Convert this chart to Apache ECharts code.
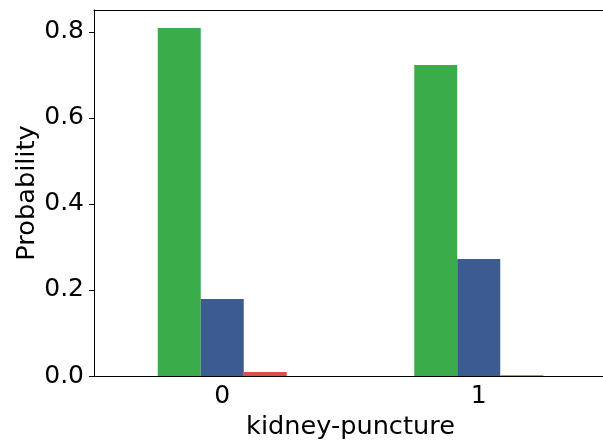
<!DOCTYPE html>
<html><head><meta charset="utf-8">
<script src="https://cdn.jsdelivr.net/npm/echarts@6/dist/echarts.min.js"></script>
<style>html,body{margin:0;padding:0;background:#fff}#c{width:603px;height:445px}</style>
</head><body><div id="c"></div>
<script>
const categories = ['0', '1'];
const seriesNames = ['A', 'B', 'C'];
const greenValues = [0.809, 0.723];
const blueValues = [0.179, 0.272];
const redValues = [0.0093, 0.002];
const yTicks = [0.0, 0.2, 0.4, 0.6, 0.8];
const colors = ['#3aad4a', '#3b5b91', '#db4f47'];

const chart = echarts.init(document.getElementById('c'), null, {renderer: 'canvas'});
const font = 'DejaVu Sans';
const vals = [greenValues, blueValues, redValues];
chart.setOption({
  animation: false,
  grid: {left: 94, top: 10, width: 513, bottom: 69, show: false, outerBoundsMode: 'none', containLabel: false},
  xAxis: [{
    type: 'category', data: categories,
    name: 'kidney-puncture', nameLocation: 'middle', nameGap: 38, nameMoveOverlap: false,
    nameTextStyle: {fontFamily: font, fontSize: 25.6, color: '#000'},
    axisLine: {lineStyle: {color: '#000', width: 1}},
    axisTick: {alignWithLabel: true, length: 5, lineStyle: {color: '#000'}},
    axisLabel: {fontFamily: font, fontSize: 25, color: '#000', margin: 8},
    splitLine: {show: false}
  }, {
    type: 'category', data: categories, position: 'top',
    axisLine: {show: true, lineStyle: {color: '#000', width: 1}},
    axisTick: {show: false}, axisLabel: {show: false}, splitLine: {show: false}
  }],
  yAxis: {
    type: 'value', min: 0, max: 0.851, interval: 0.2,
    name: 'Probability', nameLocation: 'middle', nameGap: 54, nameMoveOverlap: false,
    nameTextStyle: {fontFamily: font, fontSize: 25.6, color: '#000'},
    axisLine: {show: true, lineStyle: {color: '#000', width: 1}},
    axisTick: {show: true, length: 5, lineStyle: {color: '#000'}},
    axisLabel: {fontFamily: font, fontSize: 25, color: '#000', margin: 10, showMaxLabel: false,
      formatter: v => { const t = yTicks.find(x => Math.abs(x - v) < 1e-9); return t === undefined ? '' : t.toFixed(1); }},
    splitLine: {show: false}
  },
  series: seriesNames.map((n, i) => ({
    name: n, type: 'bar', data: vals[i], barWidth: 43, barGap: '0%',
    itemStyle: {color: colors[i]}
  }))
});
</script></body></html>
